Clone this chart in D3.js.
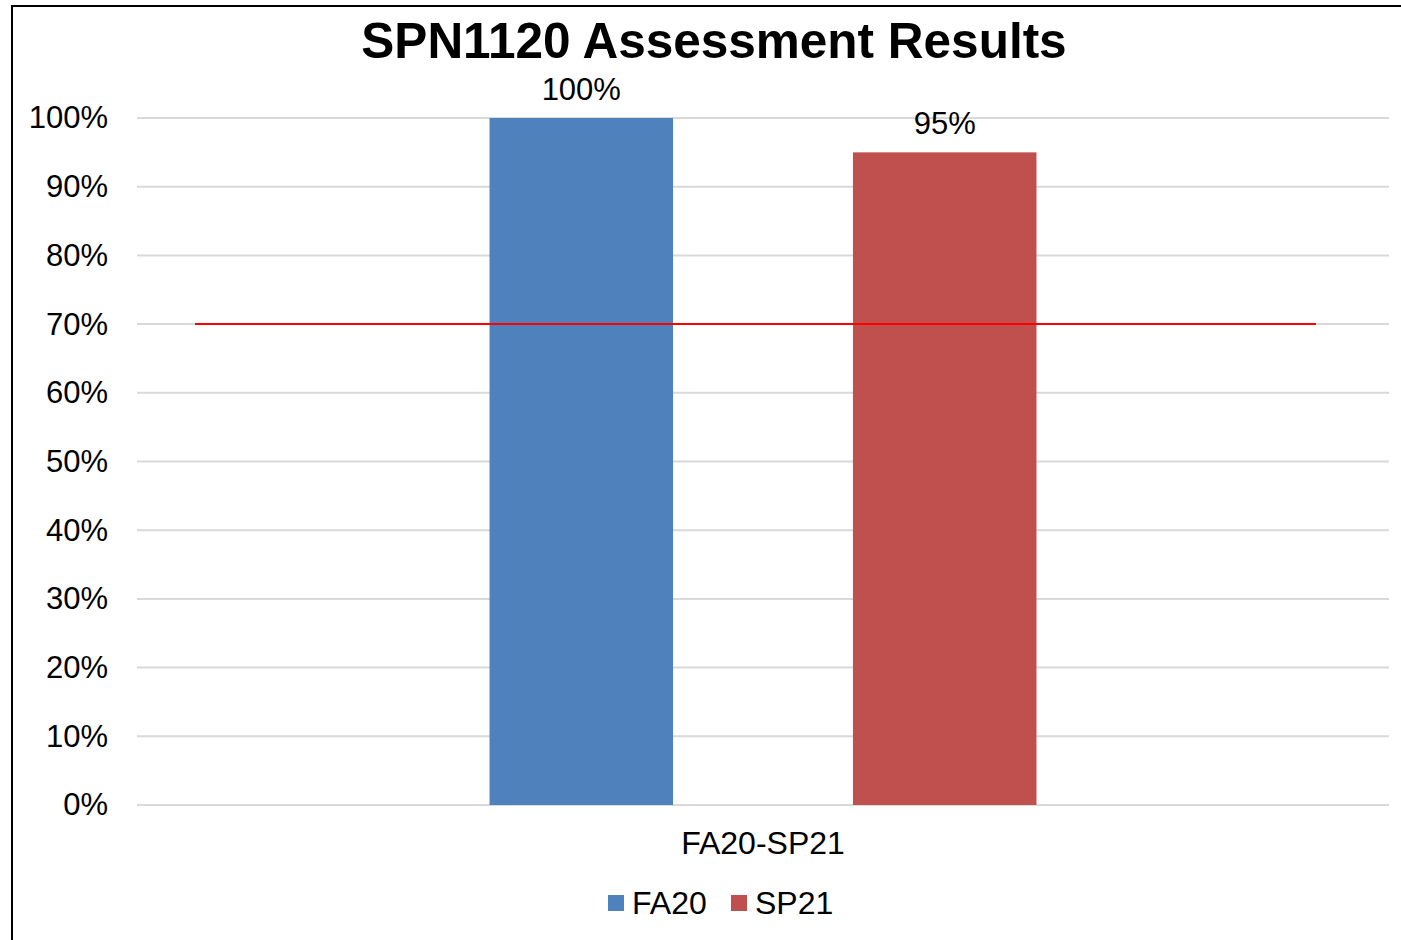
<!DOCTYPE html>
<html>
<head>
<meta charset="utf-8">
<script src="https://cdn.jsdelivr.net/npm/d3@7"></script>
<style>
  body { margin: 0; background: #fff; }
  svg { display: block; font-family: "Liberation Sans", Arial, sans-serif; }
</style>
</head>
<body>
<svg class="chart" width="1401" height="940"></svg>
<script>
const categories = ['FA20-SP21']
const seriesNames = ['FA20', 'SP21']
const seriesValues = [1.00, 0.95]
const seriesColors = ['#4f81bd', '#c0504d']
const yTicks = [0, 0.1, 0.2, 0.3, 0.4, 0.5, 0.6, 0.7, 0.8, 0.9, 1.0]
const target = [0.70]

const svg = d3.select('.chart')
const width = +svg.attr('width')
const height = +svg.attr('height')
const margin = { top: 118, right: 12, bottom: 135, left: 137 }
const innerW = width - margin.left - margin.right
const innerH = height - margin.top - margin.bottom

// outer frame (runs off the right and bottom edges like the source)
svg.append('rect')
    .attr('x', 12).attr('y', 6)
    .attr('width', width + 20).attr('height', height + 20)
    .attr('fill', 'none').attr('stroke', '#000').attr('stroke-width', 2)

svg.append('text')
    .attr('x', 714).attr('y', 58)
    .attr('text-anchor', 'middle')
    .attr('font-size', 49.5).attr('font-weight', 'bold')
    .text('SPN1120 Assessment Results')

const g = svg.append('g').attr('transform', `translate(${margin.left},${margin.top})`)

const y = d3.scaleLinear().domain([0, 1]).range([innerH, 0])
const x0 = d3.scaleBand().domain(categories).range([0, innerW])
const x1 = d3.scaleBand().domain(seriesNames).range([0, x0.bandwidth()])
    .paddingInner(0.495).paddingOuter(0.97)

// gridlines
g.selectAll('line.grid').data(yTicks)
    .enter().append('line')
    .attr('class', 'grid')
    .attr('x1', 0).attr('x2', innerW)
    .attr('y1', d => y(d)).attr('y2', d => y(d))
    .attr('stroke', '#d9d9d9').attr('stroke-width', 2)

const yAxis = d3.axisLeft(y).tickValues(yTicks).tickFormat(d3.format('.0%')).tickSize(0).tickPadding(29)
g.append('g').call(yAxis)
    .call(a => a.select('.domain').remove())
    .selectAll('text')
    .attr('font-size', 31).attr('fill', '#000')
    .attr('font-family', '"Liberation Sans", Arial, sans-serif')

const bars = seriesNames.map((s, i) => ({ cat: categories[0], name: s, value: seriesValues[i], color: seriesColors[i] }))

g.selectAll('rect.bar').data(bars)
    .enter().append('rect')
    .attr('class', 'bar')
    .attr('x', d => x0(d.cat) + x1(d.name))
    .attr('width', x1.bandwidth())
    .attr('y', d => y(d.value))
    .attr('height', d => innerH - y(d.value))
    .attr('fill', d => d.color)

g.selectAll('text.lbl').data(bars)
    .enter().append('text')
    .attr('class', 'lbl')
    .attr('x', d => x0(d.cat) + x1(d.name) + x1.bandwidth() / 2)
    .attr('y', d => y(d.value) - 18)
    .attr('text-anchor', 'middle')
    .attr('font-size', 31)
    .text(d => d3.format('.0%')(d.value))

// target line
const insetL = 58, insetR = 73
g.selectAll('line.target').data(target)
    .enter().append('line')
    .attr('class', 'target')
    .attr('x1', insetL).attr('x2', innerW - insetR)
    .attr('y1', d => y(d)).attr('y2', d => y(d))
    .attr('stroke', '#ff0000').attr('stroke-width', 2)

// category axis label
g.selectAll('text.cat').data(categories)
    .enter().append('text')
    .attr('class', 'cat')
    .attr('x', d => x0(d) + x0.bandwidth() / 2)
    .attr('y', innerH + 49)
    .attr('text-anchor', 'middle')
    .attr('font-size', 32)
    .text(d => d)

// legend
const legend = svg.append('g').attr('transform', 'translate(608,895)')
const offsets = [0, 123]
const item = legend.selectAll('g').data(bars)
    .enter().append('g')
    .attr('transform', (d, i) => `translate(${offsets[i]},0)`)
item.append('rect').attr('width', 16).attr('height', 16).attr('fill', d => d.color)
item.append('text').attr('x', 24).attr('y', 19).attr('font-size', 32).text(d => d.name)
</script>
</body>
</html>
